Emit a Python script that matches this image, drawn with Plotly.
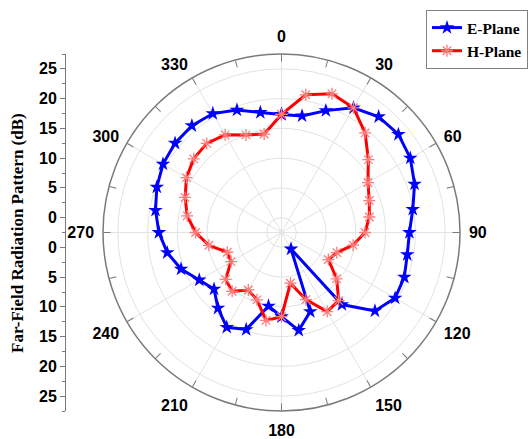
import plotly.graph_objects as go

# ---------------- data ----------------
ANGLES = [0, 10, 20, 30, 40, 50, 60, 70, 80, 90, 100, 110, 120, 130, 140, 150, 160, 170,
          180, 190, 200, 210, 220, 230, 240, 250, 260, 270, 280, 290, 300, 310, 320, 330, 340, 350]

E_PLANE = [17.35, 17.4, 19.3, 21.7, 22.9, 23.15, 22.5, 21.3, 19.9, 19.0, 18.96, 19.47,
           19.55, 18.0, 13.3, 0.7, 11.65, 14.2, 11.66, 10.05, 14.85, 15.9, 14.1, 12.3,
           13.46, 15.47, 17.0, 18.1, 19.0, 19.8, 20.5, 20.85, 20.93, 20.58, 19.4, 17.98]

H_PLANE = [17.35, 21.0, 22.3, 21.7, 19.36, 16.56, 14.28, 13.2, 12.49, 11.54, 9.72, 7.4,
           6.6, 9.6, 12.45, 12.85, 9.5, 6.15, 11.65, 12.5, 9.55, 8.65, 10.4, 9.75,
           7.3, 7.2, 9.9, 11.94, 13.59, 14.74, 15.95, 16.76, 17.05, 16.45, 14.96, 14.3]

ANGLE_TICKS = [0, 30, 60, 90, 120, 150, 180, 210, 240, 270, 300, 330]
ANGLE_TICK_TEXT = ["0", "30", "60", "90", "120", "150", "180", "210", "240", "270", "300", "330"]
MINOR_ANGLES = [0, 15, 30, 45, 60, 75, 90, 105, 120, 135, 150, 165,
                180, 195, 210, 225, 240, 255, 270, 285, 300, 315, 330, 345]
RADIAL_GRID = [0, 5, 10, 15, 20, 25]
LEFT_LABELS_TOP = [25, 20, 15, 10, 5, 0]
LEFT_LABELS_BOTTOM = [0, 5, 10, 15, 20, 25]
R_MIN, R_MAX = -2.5, 27.5

# ---------------- derived ----------------
theta_closed = ANGLES + [360]
e_closed = E_PLANE + [E_PLANE[0]]
h_closed = H_PLANE + [H_PLANE[0]]

left_tickvals = [v - R_MIN for v in LEFT_LABELS_TOP] + [-(v - R_MIN) for v in LEFT_LABELS_BOTTOM]
left_ticktext = [str(v) for v in LEFT_LABELS_TOP] + [str(v) for v in LEFT_LABELS_BOTTOM]
span = R_MAX - R_MIN
left_minor = [-span, -25, -20, -15, -10, -5, 0, 5, 10, 15, 20, 25, span]

W, H = 532, 439
cx, cy, rad = 281.5, 232.5, 178.5
dom_x = [(cx - rad) / W, (cx + rad) / W]
dom_y = [(H - cy - rad) / H, (H - cy + rad) / H]

sans_bold = dict(family="Liberation Sans, Arial, sans-serif", size=16, color="black", weight="bold")
serif_bold = dict(family="Liberation Serif, Times New Roman, serif", size=15.5, color="black", weight="bold")

fig = go.Figure()

fig.add_trace(go.Scatterpolar(
    r=e_closed, theta=theta_closed, mode="lines+markers", name="E-Plane",
    line=dict(color="#0000ff", width=3),
    marker=dict(symbol="star", size=11, color="#0000ff"),
    subplot="polar", hoverinfo="skip"))

fig.add_trace(go.Scatterpolar(
    r=h_closed, theta=theta_closed, mode="lines+markers", name="H-Plane",
    line=dict(color="#ff0000", width=3),
    marker=dict(symbol="asterisk-open", size=10, color="#ff7a7a",
                line=dict(color="#ff7a7a", width=1.3)),
    subplot="polar", hoverinfo="skip"))

# invisible helper for the minor-tick overlay
fig.add_trace(go.Scatterpolar(
    r=[R_MIN], theta=[0], mode="markers", marker=dict(opacity=0),
    subplot="polar2", showlegend=False, hoverinfo="skip"))

# invisible helper for the left dB axis
fig.add_trace(go.Scatter(
    x=[0, 0], y=[-span, span], mode="markers", marker=dict(opacity=0),
    xaxis="x", yaxis="y", showlegend=False, hoverinfo="skip"))

fig.update_layout(
    width=W, height=H, template="none",
    margin=dict(l=0, r=0, t=0, b=0, autoexpand=False),
    paper_bgcolor="white", plot_bgcolor="rgba(0,0,0,0)",
    polar=dict(
        domain=dict(x=dom_x, y=dom_y),
        bgcolor="white",
        angularaxis=dict(
            direction="clockwise", rotation=90,
            tickmode="array", tickvals=ANGLE_TICKS, ticktext=ANGLE_TICK_TEXT,
            ticks="outside", ticklen=5, tickcolor="rgba(0,0,0,0)",
            showline=True, linecolor="#7a7a7a", linewidth=1.5,
            showgrid=True, gridcolor="#e2e2e2", gridwidth=1,
            tickfont=sans_bold),
        radialaxis=dict(
            range=[R_MIN, R_MAX], tickmode="array", tickvals=RADIAL_GRID,
            showticklabels=False, ticks="", showline=False,
            showgrid=True, gridcolor="#e2e2e2", gridwidth=1)),
    polar2=dict(
        domain=dict(x=dom_x, y=dom_y),
        bgcolor="rgba(0,0,0,0)",
        angularaxis=dict(
            direction="clockwise", rotation=90,
            tickmode="array", tickvals=MINOR_ANGLES,
            ticks="inside", ticklen=7, tickwidth=1, tickcolor="#7a7a7a",
            showticklabels=False, showgrid=False, showline=False),
        radialaxis=dict(range=[R_MIN, R_MAX], visible=False)),
    xaxis=dict(domain=[66 / W, 0.2], visible=False, range=[0, 1]),
    yaxis=dict(
        domain=dom_y, range=[-span, span], anchor="x",
        tickmode="array", tickvals=left_tickvals, ticktext=left_ticktext,
        ticks="outside", ticklen=5, tickwidth=1, tickcolor="#7a7a7a",
        showline=True, linecolor="#7a7a7a", linewidth=1,
        showgrid=False, zeroline=False, tickfont=sans_bold,
        minor=dict(tickmode="array", tickvals=left_minor, ticks="outside",
                   ticklen=3, tickwidth=1, tickcolor="#7a7a7a", showgrid=False)),
    legend=dict(
        x=528 / W, y=1 - 10 / H, xanchor="right", yanchor="top",
        bgcolor="white", bordercolor="#808080", borderwidth=1,
        font=serif_bold, tracegroupgap=0, itemwidth=30),
    annotations=[dict(
        text="Far-Field Radiation Pattern (dB)", textangle=-90,
        x=17 / W, y=(H - 233) / H, xref="paper", yref="paper",
        xanchor="center", yanchor="middle", showarrow=False,
        font=dict(family="Liberation Serif, Times New Roman, serif", size=17,
                  color="black", weight="bold"))],
)

fig.write_html(
    "out.html",
    config={"displayModeBar": False},
    post_script="document.body.style.margin='0';document.body.style.overflow='hidden';",
)
